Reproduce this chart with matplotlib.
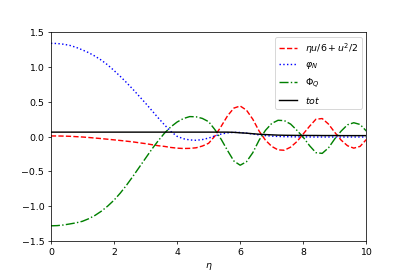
import numpy as np
import matplotlib
matplotlib.use("Agg")
import matplotlib.pyplot as plt

# eta grid (step 0.2)
eta = [round(0.2 * i, 1) for i in range(51)]

# eta*u/6 + u^2/2 (red dashed)
energyU = [0.010, 0.010, 0.008, 0.005, 0.000, -0.005, -0.012, -0.020, -0.028, -0.037,
           -0.046, -0.055, -0.065, -0.075, -0.088, -0.100, -0.115, -0.130, -0.140, -0.155,
           -0.165, -0.170, -0.168, -0.160, -0.135, -0.095, 0.010, 0.150, 0.300, 0.410,
           0.440, 0.380, 0.250, 0.080, -0.050, -0.140, -0.190, -0.195, -0.150, -0.070,
           0.040, 0.150, 0.250, 0.260, 0.180, 0.060, -0.050, -0.130, -0.165, -0.140,
           -0.040]

# phi_N (blue dotted)
phiN = [1.340, 1.337, 1.327, 1.310, 1.282, 1.245, 1.205, 1.155, 1.098, 1.030,
        0.950, 0.865, 0.775, 0.680, 0.580, 0.480, 0.375, 0.270, 0.170, 0.075,
        0.005, -0.030, -0.047, -0.052, -0.042, -0.020, 0.010, 0.038, 0.055, 0.062,
        0.060, 0.050, 0.038, 0.025, 0.015, 0.008, 0.003, 0.000, -0.002, -0.003,
        -0.004, -0.004, -0.005, -0.005, -0.005, -0.005, -0.005, -0.005, -0.005, -0.005,
        -0.005]

# Phi_Q (green dash-dot)
phiQ = [-1.280, -1.277, -1.268, -1.253, -1.237, -1.215, -1.178, -1.130, -1.070, -0.997,
        -0.912, -0.810, -0.695, -0.570, -0.440, -0.310, -0.180, -0.060, 0.050, 0.140,
        0.210, 0.260, 0.288, 0.285, 0.262, 0.215, 0.100, -0.040, -0.200, -0.350,
        -0.410, -0.360, -0.230, -0.050, 0.090, 0.190, 0.235, 0.230, 0.180, 0.090,
        -0.010, -0.130, -0.230, -0.240, -0.160, -0.030, 0.080, 0.170, 0.200, 0.175,
        0.080]

# total (black)
tot = [0.065] * 29 + [0.062, 0.055, 0.050, 0.042, 0.035, 0.030, 0.026, 0.022, 0.020,
                      0.019, 0.018, 0.018, 0.017, 0.017, 0.016, 0.016, 0.016, 0.015,
                      0.015, 0.015, 0.015, 0.015]

fig = plt.figure(figsize=(6, 4), dpi=67.85)
ax = fig.add_subplot(111)
ax.plot(eta, energyU, "r--", label=r"$\eta u/6 + u^2/2$")
ax.plot(eta, phiN, "b:", label=r"$\varphi_N$")
ax.plot(eta, phiQ, "g-.", label=r"$\Phi_Q$")
ax.plot(eta, tot, "k-", label=r"$tot$")
ax.set_xlim(0, 10)
ax.set_ylim(-1.5, 1.5)
ax.set_xlabel(r"$\eta$")
ax.legend(loc="upper right")
fig.savefig("out.png", dpi=67.85)
